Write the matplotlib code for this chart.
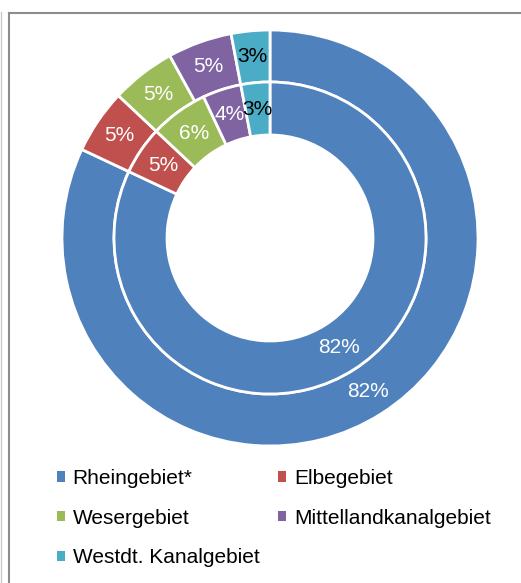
import matplotlib
matplotlib.use("Agg")
import matplotlib.pyplot as plt
from matplotlib.patches import Patch
from matplotlib.lines import Line2D

plt.rcParams['font.family'] = ['Liberation Sans', 'DejaVu Sans']

categories = ["Rheingebiet*", "Elbegebiet", "Wesergebiet", "Mittellandkanalgebiet", "Westdt. Kanalgebiet"]
outer_values = [82, 5, 5, 5, 3]
inner_values = [82, 5, 6, 4, 3]
colors = ["#4F81BD", "#C0504D", "#9BBB59", "#8064A2", "#4BACC6"]
text_colors = ["white", "white", "white", "white", "black"]

W, H = 521, 583
fig = plt.figure(figsize=(W / 100, H / 100), dpi=100)
ax = fig.add_axes([0, 0, 1, 1])

cx, cy = 270, H - 238
R_out, R_mid, R_in = 208, 156, 103

def pct_fmt(p):
    return "%d%%" % round(p)

w1, t1, a1 = ax.pie(outer_values, colors=colors, radius=R_out, center=(cx, cy),
                    startangle=90, counterclock=False,
                    wedgeprops=dict(width=R_out - R_mid, edgecolor="white", linewidth=2),
                    autopct=pct_fmt, pctdistance=(R_out + R_mid) / 2 / R_out,
                    textprops=dict(fontsize=15))
w2, t2, a2 = ax.pie(inner_values, colors=colors, radius=R_mid, center=(cx, cy),
                    startangle=90, counterclock=False,
                    wedgeprops=dict(width=R_mid - R_in, edgecolor="white", linewidth=2),
                    autopct=pct_fmt, pctdistance=(R_mid + R_in) / 2 / R_mid,
                    textprops=dict(fontsize=15))
for txts in (a1, a2):
    for t, c in zip(txts, text_colors):
        t.set_color(c)

ax.set_xlim(0, W)
ax.set_ylim(0, H)
ax.set_aspect("equal")
ax.axis("off")

# legend (row-major order as in reference)
handles = [Patch(facecolor=c, edgecolor="none") for c in colors]
order = [0, 2, 4, 1, 3]
leg = fig.legend([handles[i] for i in order], [categories[i] for i in order],
                 ncol=2, loc="upper left", bbox_to_anchor=(57 / W, 1 - 469 / H),
                 frameon=False, fontsize=15, handlelength=0.4, handleheight=0.4,
                 handletextpad=0.35, columnspacing=0.9, labelspacing=0.99,
                 borderpad=0, borderaxespad=0)

# frame lines
fig.add_artist(Line2D([9 / W, 9 / W], [0, 1 - 13 / H], color="#8c8c8c", lw=1.5))
fig.add_artist(Line2D([9 / W, 520 / W], [1 - 13 / H, 1 - 13 / H], color="#8c8c8c", lw=1.5))
fig.add_artist(Line2D([1 / W, 1 / W], [0, 1 - 12 / H], color="#c8c8c8", lw=1))

fig.savefig("out.png", dpi=100)
